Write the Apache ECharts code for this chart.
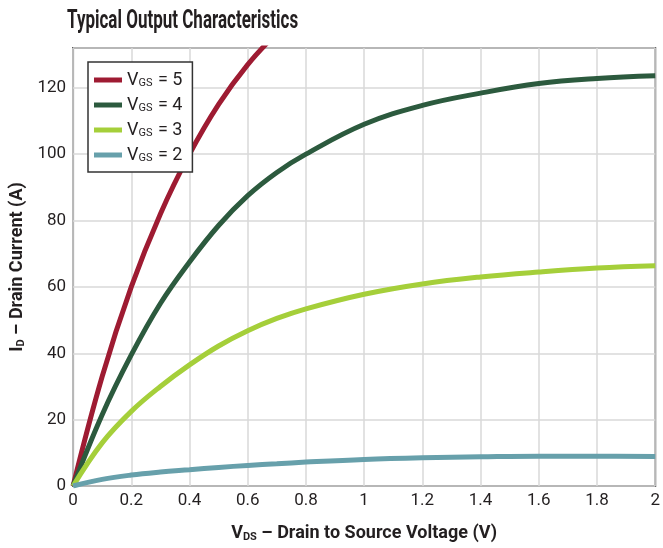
<!DOCTYPE html>
<html>
<head>
<meta charset="utf-8">
<script src="https://cdn.jsdelivr.net/npm/echarts@6/dist/echarts.min.js"></script>
<style>
  html, body { margin: 0; padding: 0; background: #fff; }
  #chart { width: 663px; height: 548px; }
</style>
</head>
<body>
<div id="chart"></div>
<script>
// V_DS sample points (V)
var vds = [0, 0.1, 0.2, 0.3, 0.4, 0.5, 0.6, 0.7, 0.8, 1.0, 1.2, 1.4, 1.6, 1.8, 2.0];
var vdsVgs5 = [0, 0.1, 0.2, 0.3, 0.4, 0.5, 0.6, 0.7];

// drain current I_D (A)
var idVgs5 = [0, 33, 60, 82, 100, 115, 127, 136.5];
var idVgs4 = [0, 21.5, 39.5, 55, 67.5, 78.5, 87.5, 94.5, 100, 109, 114.7, 118.4, 121.3, 122.8, 123.6];
var idVgs3 = [0, 13, 22.5, 30, 36.5, 42.2, 46.8, 50.5, 53.4, 57.8, 60.9, 63, 64.5, 65.7, 66.4];
var idVgs2 = [0, 2.0, 3.3, 4.2, 4.9, 5.6, 6.2, 6.7, 7.2, 8.0, 8.5, 8.8, 9.0, 9.0, 8.9];

var seriesNames = ['5', '4', '3', '2'];
var colors = ['#9e1b32', '#2c5a3e', '#a5cf3a', '#67a0ab'];

var font = 'Roboto, sans-serif';
var ink = '#231f20';

function pairs(xs, ys) {
  return xs.map(function (x, i) { return [x, ys[i]]; });
}

function curve(name, xs, ys, color) {
  return {
    name: name,
    type: 'line',
    data: pairs(xs, ys),
    smooth: 0.4,
    showSymbol: false,
    clip: true,
    lineStyle: { width: 5, color: color },
    itemStyle: { color: color }
  };
}

var nameRich = {
  b: { fontFamily: font, fontSize: 18, fontWeight: 'bold', color: ink },
  s: { fontFamily: font, fontSize: 11, fontWeight: 'bold', color: ink, verticalAlign: 'bottom', padding: [8, 0, 0, 0] }
};

var chart = echarts.init(document.getElementById('chart'));
chart.setOption({
  animation: false,
  // condensed bold title, narrowed to the original's width
  graphic: [{
    type: 'text',
    x: 67,
    y: 9,
    scaleX: 0.68,
    style: {
      text: 'Typical Output Characteristics',
      fontFamily: font,
      fontSize: 25,
      fontWeight: 'bold',
      fill: ink
    }
  }],
  grid: {
    left: 70, right: 4, top: 48, bottom: 54,
    show: true, borderColor: '#555', borderWidth: 2
  },
  legend: {
    orient: 'vertical',
    left: 88, top: 62,
    padding: [9, 10, 8, 6],
    backgroundColor: '#fff',
    borderColor: '#333',
    borderWidth: 1.5,
    borderRadius: 0,
    itemWidth: 28,
    itemHeight: 5,
    itemGap: 7,
    icon: 'rect',
    data: seriesNames,
    formatter: function (n) { return '{v|V}{s|GS}{v| = ' + n + '}'; },
    textStyle: {
      fontFamily: font,
      color: ink,
      rich: {
        v: { fontFamily: font, fontSize: 18, color: ink },
        s: { fontFamily: font, fontSize: 11, color: ink, verticalAlign: 'bottom', padding: [6, 1, 0, 0] }
      }
    }
  },
  xAxis: {
    type: 'value',
    min: 0, max: 2, interval: 0.2,
    name: '{b|V}{s|DS}{b| – Drain to Source Voltage (V)}',
    nameLocation: 'middle',
    nameGap: 38,
    nameTextStyle: { rich: nameRich },
    axisLine: { show: false },
    axisTick: { show: false },
    axisLabel: { fontFamily: font, fontSize: 17, color: ink, margin: 6 },
    splitLine: { lineStyle: { color: '#d9d9d9', width: 1.5 } }
  },
  yAxis: {
    type: 'value',
    min: 0, max: 132, interval: 20,
    name: '{b|I}{s|D}{b| – Drain Current (A)}',
    nameLocation: 'middle',
    nameRotate: 90,
    nameGap: 46,
    nameTextStyle: { rich: nameRich },
    axisLine: { show: false },
    axisTick: { show: false },
    axisLabel: { fontFamily: font, fontSize: 17, color: ink, margin: 7, showMaxLabel: false },
    splitLine: { lineStyle: { color: '#d9d9d9', width: 1.5 } }
  },
  series: [
    curve('5', vdsVgs5, idVgs5, colors[0]),
    curve('4', vds, idVgs4, colors[1]),
    curve('3', vds, idVgs3, colors[2]),
    curve('2', vds, idVgs2, colors[3])
  ]
});
</script>
</body>
</html>
